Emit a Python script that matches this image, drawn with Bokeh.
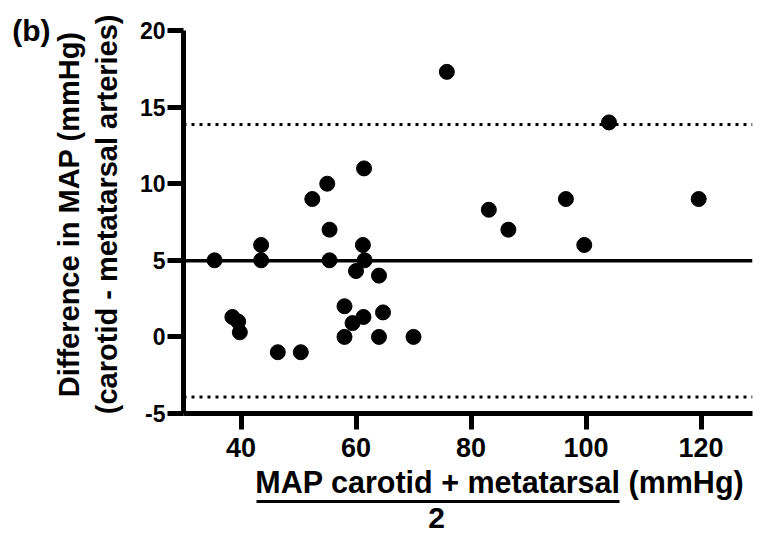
import numpy as np
from bokeh.plotting import figure
from bokeh.models import Span, LinearAxis, FixedTicker, Range1d, PrintfTickFormatter
from bokeh.embed import file_html
from bokeh.resources import INLINE

# ---- data ----
mean_map = [35.4, 38.5, 39.5, 39.8, 43.5, 43.5, 46.4, 50.4, 52.4, 55.0, 55.4,
            55.4, 58.0, 58.0, 59.4, 60.0, 61.2, 61.5, 61.4, 61.3, 64.0, 64.0,
            64.7, 70.0, 75.8, 83.1, 86.5, 96.5, 99.7, 104.0, 119.6]
diff_map = [5.0, 1.3, 1.0, 0.3, 6.0, 5.0, -1.0, -1.0, 9.0, 10.0, 7.0,
            5.0, 2.0, 0.0, 0.9, 4.3, 6.0, 5.0, 11.0, 1.3, 4.0, 0.0,
            1.6, 0.0, 17.3, 8.3, 7.0, 9.0, 6.0, 14.0, 9.0]
bias = 4.97
upper_loa = 13.86
lower_loa = -3.92
x_ticks = [40, 60, 80, 100, 120]
y_ticks = [-5, 0, 5, 10, 15, 20]

panel_tag = "(b)"
y_title_1 = "Difference in MAP (mmHg)"
y_title_2 = "(carotid - metatarsal arteries)"
x_title_num = "MAP carotid + metatarsal"
x_title_unit = "(mmHg)"
x_title_den = "2"

# ---- layout ----
W, H = 754, 532
FL, FR, FT, FB = 183, 752, 30, 413
X0, Y0, Y1 = 30, -5, 20
PX_PER_X = 5.75
X1 = X0 + (FR - FL) / PX_PER_X
FONT = "Liberation Sans"

p = figure(width=W, height=H, output_backend="svg", toolbar_location=None,
           x_range=Range1d(X0, X1), y_range=Range1d(Y0, Y1),
           min_border_left=FL, min_border_right=W - FR,
           min_border_top=FT, min_border_bottom=H - FB)
p.outline_line_color = None
p.grid.visible = False
p.background_fill_color = "white"
p.border_fill_color = "white"


def style(ax, size):
    ax.major_label_text_font = FONT
    ax.major_label_text_font_style = "bold"
    ax.major_label_text_color = "black"
    ax.major_label_text_font_size = size
    ax.minor_tick_line_color = None


for ax in (p.xaxis[0], p.yaxis[0]):
    ax.axis_line_width = 5
    ax.axis_line_color = "black"
    ax.major_tick_line_width = 5
    ax.major_tick_line_color = "black"
    ax.major_tick_in = 0
    ax.major_tick_out = 16

p.xaxis.ticker = FixedTicker(ticks=x_ticks)
p.yaxis.ticker = FixedTicker(ticks=y_ticks)
p.yaxis.formatter = PrintfTickFormatter(format="%d")
style(p.xaxis[0], "27px")
style(p.yaxis[0], "23px")
p.xaxis.major_label_standoff = 8
p.yaxis.major_label_standoff = 2


def text_axis(side, pos, text, size, standoff, orientation="horizontal",
              line_width=0, bounds="auto"):
    ax = LinearAxis(ticker=FixedTicker(ticks=[pos]),
                    major_label_overrides={pos: text},
                    major_label_orientation=orientation,
                    major_label_standoff=standoff,
                    major_tick_in=0, major_tick_out=0,
                    major_tick_line_color=None,
                    bounds=bounds)
    if line_width:
        ax.axis_line_width = line_width
        ax.axis_line_color = "black"
    else:
        ax.axis_line_color = None
    style(ax, size)
    p.add_layout(ax, side)
    return ax


# left side (from the frame outwards)
text_axis("left", 8, y_title_2, "29px", 13, orientation="vertical")
text_axis("left", 8, y_title_1, "29px", 3, orientation="vertical")
text_axis("left", 20, panel_tag, "30px", 0)

# below: title as a fraction
XFS = 30.5
x_center = 85
full_w = 15.971 * XFS / PX_PER_X
num_w = 11.916 * XFS / PX_PER_X
num_left = x_center - full_w / 2
text_axis("below", x_center, x_title_num + " " + x_title_unit, f"{XFS}px", 5)
den_pos = 74
text_axis("below", den_pos, x_title_den, "30px", 6, line_width=3,
          bounds=(num_left, num_left + num_w))

p.add_layout(Span(location=bias, dimension="width", line_color="black", line_width=3.5))
for loc in (upper_loa, lower_loa):
    p.add_layout(Span(location=loc, dimension="width", line_color="black",
                      line_width=3, line_dash="3 5"))

p.scatter(mean_map, diff_map, size=15, color="black", marker="circle")

open("out.html", "w").write(file_html(p, INLINE))
